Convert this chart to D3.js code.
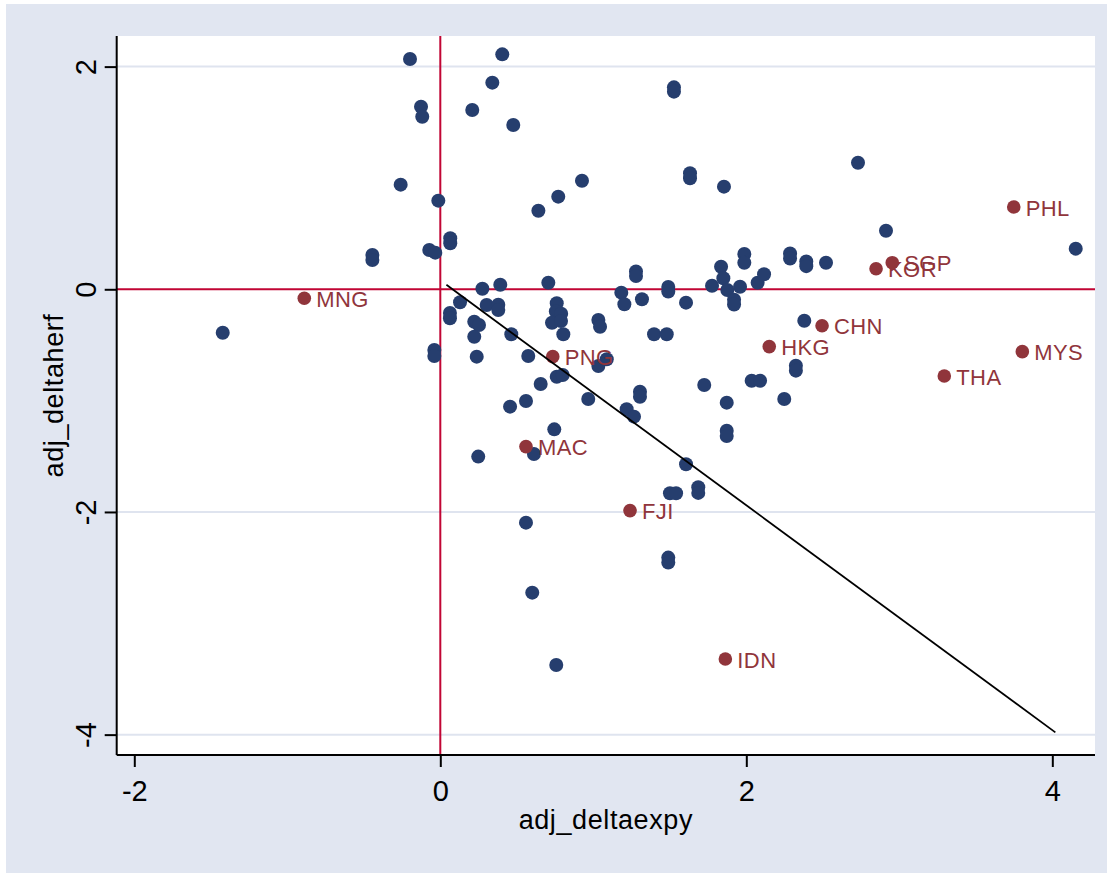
<!DOCTYPE html>
<html>
<head>
<meta charset="utf-8">
<script src="https://cdn.jsdelivr.net/npm/d3@7"></script>
<style>
  html, body { margin: 0; padding: 0; background: #ffffff; }
  svg { display: block; font-family: "Liberation Sans", Arial, Helvetica, sans-serif; }
</style>
</head>
<body>
<svg id="chart" width="1107" height="873"></svg>
<script>
// Unlabelled economies: change in export sophistication vs. change in Herfindahl
const otherX = [
  -0.198, 0.405, 0.34, -0.126, -0.118, 0.209, 0.477, 1.527, 1.527, -0.259,
  -0.013, 0.065, 0.065, -0.072, -0.033, 0.641, 0.771, 0.926, 1.632, 1.632,
  1.854, 1.987, 1.987, 1.835, 1.85, 1.776, 1.876, 1.959, 2.074, 2.116,
  1.279, 1.279, 0.706, 0.392, 0.275, 1.183, 1.49, 1.49, 1.318, 2.73,
  2.913, 4.153, 2.286, 2.286, 2.392, 2.392, 2.521, -1.422, -0.444, -0.444,
  -0.039, -0.039, 0.063, 0.063, 0.129, 0.303, 0.379, 0.379, 0.222, 0.253,
  0.222, 0.238, 0.464, 0.575, 0.761, 0.755, 0.79, 0.73, 0.789, 0.804,
  1.033, 1.044, 1.203, 1.606, 1.92, 1.92, 1.397, 1.48, 1.033, 1.088,
  0.761, 0.8, 0.656, 1.305, 1.305, 0.967, 1.218, 1.266, 0.456, 0.56,
  0.745, 1.725, 1.872, 1.872, 1.872, 2.035, 2.09, 2.324, 2.324, 2.248,
  0.612, 0.248, 1.606, 1.501, 1.541, 1.686, 1.686, 0.56, 1.49, 1.49,
  0.601, 0.758, 2.379
];
const otherY = [
  2.068, 2.11, 1.856, 1.64, 1.55, 1.61, 1.476, 1.814, 1.775, 0.94,
  0.796, 0.458, 0.413, 0.353, 0.329, 0.706, 0.832, 0.975, 1.042, 0.997,
  0.922, 0.317, 0.239, 0.203, 0.099, 0.032, -0.006, 0.023, 0.059, 0.135,
  0.16, 0.12, 0.059, 0.041, 0.005, -0.03, 0.02, -0.02, -0.09, 1.137,
  0.526, 0.365, 0.322, 0.277, 0.25, 0.208, 0.239, -0.39, 0.308, 0.263,
  -0.545, -0.599, -0.213, -0.26, -0.117, -0.141, -0.138, -0.186, -0.291, -0.321,
  -0.426, -0.605, -0.404, -0.599, -0.126, -0.2, -0.22, -0.3, -0.285, -0.404,
  -0.276, -0.336, -0.135, -0.12, -0.094, -0.136, -0.404, -0.404, -0.689, -0.629,
  -0.785, -0.77, -0.851, -0.92, -0.965, -0.985, -1.078, -1.144, -1.054, -1.003,
  -1.258, -0.86, -1.018, -1.27, -1.318, -0.821, -0.821, -0.686, -0.731, -0.985,
  -1.479, -1.503, -1.572, -1.832, -1.832, -1.778, -1.829, -2.096, -2.41, -2.455,
  -2.725, -3.375, -0.282
];

// Labelled Asian economies
const codes = ["MNG", "PNG", "MAC", "FJI", "IDN", "HKG", "CHN", "KOR", "SGP", "PHL", "THA", "MYS"];
const codeX = [-0.889, 0.735, 0.56, 1.24, 1.863, 2.15, 2.495, 2.848, 2.954, 3.748, 3.294, 3.804];
const codeY = [-0.081, -0.605, -1.413, -1.988, -3.321, -0.515, -0.327, 0.185, 0.239, 0.739, -0.779, -0.56];

// Straight line segment endpoints
const lineX = [0.04, 4.02];
const lineY = [0.04, -3.98];

// Axis ticks and titles
const xTicks = [-2, 0, 2, 4];
const yTicks = [-4, -2, 0, 2];
const yGrid = [-4, -2, 2];
const xTitle = "adj_deltaexpy";
const yTitle = "adj_deltaherf";

const navy = "#263e6e";
const maroon = "#90353b";
const cranberry = "#c10534";
const panel = "#e1e6f1";

const svg = d3.select("#chart");

// outer graph region
svg.append("rect").attr("x", 6).attr("y", 4).attr("width", 1101).attr("height", 869).attr("fill", panel);

const plotL = 116.7, plotR = 1095, plotT = 36, plotB = 755;
const x = d3.scaleLinear().domain([-2.115, 4.279]).range([plotL, plotR]);
const y = d3.scaleLinear().domain([-4.183, 2.275]).range([plotB, plotT]);

// plot region
svg.append("rect").attr("x", plotL).attr("y", plotT).attr("width", plotR - plotL).attr("height", plotB - plotT).attr("fill", "#ffffff");

// horizontal grid
svg.append("g").selectAll("line").data(yGrid).join("line")
  .attr("x1", plotL).attr("x2", plotR)
  .attr("y1", d => y(d)).attr("y2", d => y(d))
  .attr("stroke", "#dfe4ef").attr("stroke-width", 2);

// reference lines at zero
svg.append("line").attr("x1", plotL).attr("x2", plotR).attr("y1", y(0)).attr("y2", y(0))
  .attr("stroke", cranberry).attr("stroke-width", 2);
svg.append("line").attr("x1", x(0)).attr("x2", x(0)).attr("y1", plotT).attr("y2", plotB)
  .attr("stroke", cranberry).attr("stroke-width", 2);

// tick labels use a plain hyphen for negatives
const tickFmt = d => String(d);

// axes
const xAxis = d3.axisBottom(x).tickValues(xTicks).tickSize(12).tickPadding(13).tickFormat(tickFmt);
const gx = svg.append("g").attr("transform", `translate(0,${plotB})`).call(xAxis);
gx.select(".domain").attr("stroke", "#000").attr("stroke-width", 2).attr("d", `M${plotL},0H${plotR}`);
gx.selectAll(".tick line").attr("stroke", "#000").attr("stroke-width", 2);
gx.selectAll(".tick text").attr("font-size", 29).attr("fill", "#000")
  .attr("font-family", "'Liberation Sans', Arial, sans-serif");

const yAxis = d3.axisLeft(y).tickValues(yTicks).tickSize(12).tickPadding(9).tickFormat(tickFmt);
const gy = svg.append("g").attr("transform", `translate(${plotL},0)`).call(yAxis);
gy.select(".domain").attr("stroke", "#000").attr("stroke-width", 2).attr("d", `M0,${plotT}V${plotB}`);
gy.selectAll(".tick line").attr("stroke", "#000").attr("stroke-width", 2);
gy.selectAll(".tick text")
  .attr("font-size", 29).attr("fill", "#000")
  .attr("font-family", "'Liberation Sans', Arial, sans-serif")
  .attr("text-anchor", "middle")
  .attr("dy", 0)
  .attr("x", 0)
  .attr("transform", "translate(-21,0) rotate(-90)");

// axis titles
svg.append("text").attr("x", (plotL + plotR) / 2).attr("y", 829)
  .attr("text-anchor", "middle").attr("font-size", 27).attr("letter-spacing", 0.6)
  .attr("fill", "#000").text(xTitle);
svg.append("text").attr("transform", `translate(62.5,${(plotT + plotB) / 2}) rotate(-90)`)
  .attr("text-anchor", "middle").attr("font-size", 27).attr("letter-spacing", 0.6)
  .attr("fill", "#000").text(yTitle);

// unlabelled economies
const others = otherX.map((v, i) => ({ x: v, y: otherY[i] }));
svg.append("g").selectAll("circle").data(others).join("circle")
  .attr("cx", d => x(d.x)).attr("cy", d => y(d.y)).attr("r", 7)
  .attr("fill", navy);

// labelled economies
const labelled = codes.map((c, i) => ({ code: c, x: codeX[i], y: codeY[i] }));
const gl = svg.append("g");
gl.selectAll("circle").data(labelled).join("circle")
  .attr("cx", d => x(d.x)).attr("cy", d => y(d.y)).attr("r", 6.8)
  .attr("fill", maroon);
gl.selectAll("text").data(labelled).join("text")
  .attr("x", d => x(d.x) + 12).attr("y", d => y(d.y) + 8.5)
  .attr("font-size", 22).attr("letter-spacing", 0.4)
  .attr("fill", maroon).text(d => d.code);

// straight segment
const seg = lineX.map((v, i) => [x(v), y(lineY[i])]);
svg.append("path").attr("d", d3.line()(seg))
  .attr("fill", "none").attr("stroke", "#000").attr("stroke-width", 1.8);
</script>
</body>
</html>
